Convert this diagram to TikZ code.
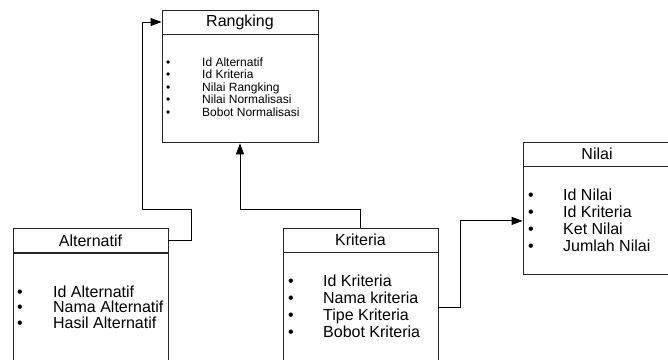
\documentclass[tikz,border=0pt]{standalone}
\usepackage{fontspec}
\setmainfont{Liberation Sans}
\usepackage{tikz}
\usetikzlibrary{arrows.meta,positioning}

\tikzset{
  head/.style={draw=black!85, line width=0.9pt, minimum height=24pt, inner sep=0pt, font=\fontsize{16}{18}\selectfont},
  body/.style={draw=black!85, line width=0.9pt, inner sep=0pt},
  items/.style={align=left, inner sep=0pt, anchor=west, font=\fontsize{16}{17}\selectfont},
  link/.style={line width=0.9pt, -{Triangle[length=11pt,width=8pt]}}
}

\begin{document}
\begin{tikzpicture}[x=1pt,y=-1pt]

\useasboundingbox (0,0) rectangle (668,359);
\clip (0,0) rectangle (668,359);

% Rangking
\node[head, minimum width=156pt] (rangHead) at (240,22) {Rangking};
\node[body, minimum width=156pt, minimum height=108pt, below=0pt of rangHead] (rangBody) {};
\node[items, font=\fontsize{12}{12.5}\selectfont] (rangList) at (166,87) {%
  \makebox[36pt][l]{\textbullet}Id Alternatif\\
  \makebox[36pt][l]{\textbullet}Id Kriteria\\
  \makebox[36pt][l]{\textbullet}Nilai Rangking\\
  \makebox[36pt][l]{\textbullet}Nilai Normalisasi\\
  \makebox[36pt][l]{\textbullet}Bobot Normalisasi};

% Alternatif
\node[head, minimum width=155pt] (altHead) at (90.5,240.5) {Alternatif};
\node[body, minimum width=155pt, minimum height=110pt, below=0pt of altHead] (altBody) {};
\node[items, font=\fontsize{16}{15.5}\selectfont] (altList) at (17,307) {%
  \makebox[36pt][l]{\textbullet}Id Alternatif\\
  \makebox[36pt][l]{\textbullet}Nama Alternatif\\
  \makebox[36pt][l]{\textbullet}Hasil Alternatif};

% Kriteria
\node[head, minimum width=155pt] (kritHead) at (360.5,240) {Kriteria};
\node[body, minimum width=155pt, minimum height=110pt, below=0pt of kritHead] (kritBody) {};
\node[items] (kritList) at (288,306.5) {%
  \makebox[35pt][l]{\textbullet}Id Kriteria\\
  \makebox[35pt][l]{\textbullet}Nama kriteria\\
  \makebox[35pt][l]{\textbullet}Tipe Kriteria\\
  \makebox[35pt][l]{\textbullet}Bobot Kriteria};

% Nilai
\node[head, minimum width=148pt] (nilaiHead) at (597,154) {Nilai};
\node[body, minimum width=148pt, minimum height=108pt, below=0pt of nilaiHead] (nilaiBody) {};
\node[items] (nilaiList) at (528,220.5) {%
  \makebox[35pt][l]{\textbullet}Id Nilai\\
  \makebox[35pt][l]{\textbullet}Id Kriteria\\
  \makebox[35pt][l]{\textbullet}Ket Nilai\\
  \makebox[35pt][l]{\textbullet}Jumlah Nilai};

% connectors
\coordinate (altUp) at (191,209);
\coordinate (altLeft) at (142,209);
\coordinate (kritBend) at (240,209);

\draw[link] (altHead.east) -| (altUp) -- (altLeft) |- (rangHead.west);
\draw[link] (kritHead.north) |- (kritBend) -- (rangBody.south);
\draw[link] (kritBody.east) -- ++(22,0) |- (nilaiBody.west);

\end{tikzpicture}
\end{document}
